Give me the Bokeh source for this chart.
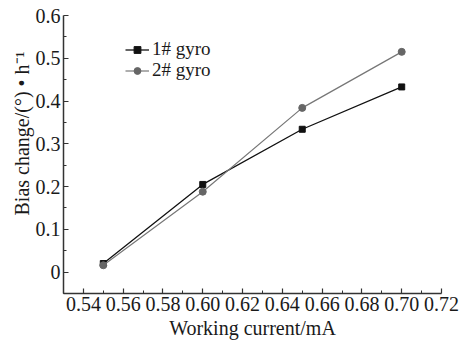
from bokeh.plotting import figure
from bokeh.models import FixedTicker, Legend, LegendItem, Title
from bokeh.embed import file_html
from bokeh.resources import INLINE

# Data
current = [0.55, 0.60, 0.65, 0.70]
gyro1 = [0.020, 0.205, 0.334, 0.433]
gyro2 = [0.016, 0.188, 0.384, 0.515]
x_major = [0.54, 0.56, 0.58, 0.60, 0.62, 0.64, 0.66, 0.68, 0.70, 0.72]
x_minor = [0.53, 0.55, 0.57, 0.59, 0.61, 0.63, 0.65, 0.67, 0.69, 0.71]
y_major = [0, 0.1, 0.2, 0.3, 0.4, 0.5, 0.6]
y_minor = [-0.05, 0.05, 0.15, 0.25, 0.35, 0.45, 0.55]
x_tick_labels = {v: f"{v:.2f}" for v in x_major}
y_tick_labels = {0: "0", 0.1: "0.1", 0.2: "0.2", 0.3: "0.3", 0.4: "0.4", 0.5: "0.5", 0.6: "0.6"}
label1 = "1# gyro"
label2 = "2# gyro"
xlabel = "Working current/mA"
ylabel = "Bias change/(°) • h⁻¹"

FONT = "Liberation Serif"
TXT = "#1a1a1a"
AX = "#333333"

p = figure(width=460, height=341, x_range=(0.53, 0.72), y_range=(-0.05, 0.6),
           output_backend="svg", toolbar_location=None,
           min_border_left=63, min_border_right=19, min_border_top=15, min_border_bottom=48)
p.outline_line_color = None
p.xgrid.visible = False
p.ygrid.visible = False
p.background_fill_color = "white"

for ax in (p.xaxis[0], p.yaxis[0]):
    ax.axis_line_color = AX
    ax.axis_line_width = 1.5
    ax.major_tick_line_color = AX
    ax.minor_tick_line_color = AX
    ax.major_tick_line_width = 1.2
    ax.minor_tick_line_width = 1.0
    ax.major_tick_in = 5
    ax.major_tick_out = 0
    ax.minor_tick_in = 3
    ax.minor_tick_out = 0
    ax.major_label_text_font = FONT
    ax.major_label_text_font_size = "20px"
    ax.major_label_text_color = TXT
    ax.axis_label_text_font = FONT
    ax.axis_label_text_font_size = "20px"
    ax.axis_label_text_font_style = "normal"
    ax.axis_label_text_color = TXT

p.xaxis.ticker = FixedTicker(ticks=x_major, minor_ticks=x_minor)
p.yaxis.ticker = FixedTicker(ticks=y_major, minor_ticks=y_minor)
p.xaxis.major_label_overrides = x_tick_labels
p.yaxis.major_label_overrides = y_tick_labels
p.xaxis.major_label_standoff = 3
p.yaxis.major_label_standoff = 3
p.xaxis.axis_label = xlabel
p.xaxis.axis_label_standoff = 3

l1 = p.line(current, gyro1, line_color="#111111", line_width=1.3)
s1 = p.scatter(current, gyro1, marker="square", size=6, fill_color="#111111", line_color="#111111")
l2 = p.line(current, gyro2, line_color="#777777", line_width=1.2)
s2 = p.scatter(current, gyro2, marker="circle", size=7, fill_color="#666666", line_color="#666666")

common = dict(border_line_color=None, background_fill_alpha=0,
              label_text_font=FONT, label_text_font_size="19px", label_text_color=TXT,
              glyph_width=24, glyph_height=17, label_height=17, spacing=0,
              padding=2, margin=0, label_standoff=3)
legend1 = Legend(items=[LegendItem(label=label1, renderers=[l1, s1])],
                 location=(62, 233), **common)
legend2 = Legend(items=[LegendItem(label=label2, renderers=[l2, s2])],
                 location=(62, 212), **common)
p.add_layout(legend1, "center")
p.add_layout(legend2, "center")

ytitle = Title(text=ylabel, align="left", offset=78, text_font=FONT,
               text_font_size="20px", text_font_style="normal", text_color=TXT,
               standoff=0)
p.add_layout(ytitle, "left")

open("out.html", "w").write(file_html(p, INLINE))
